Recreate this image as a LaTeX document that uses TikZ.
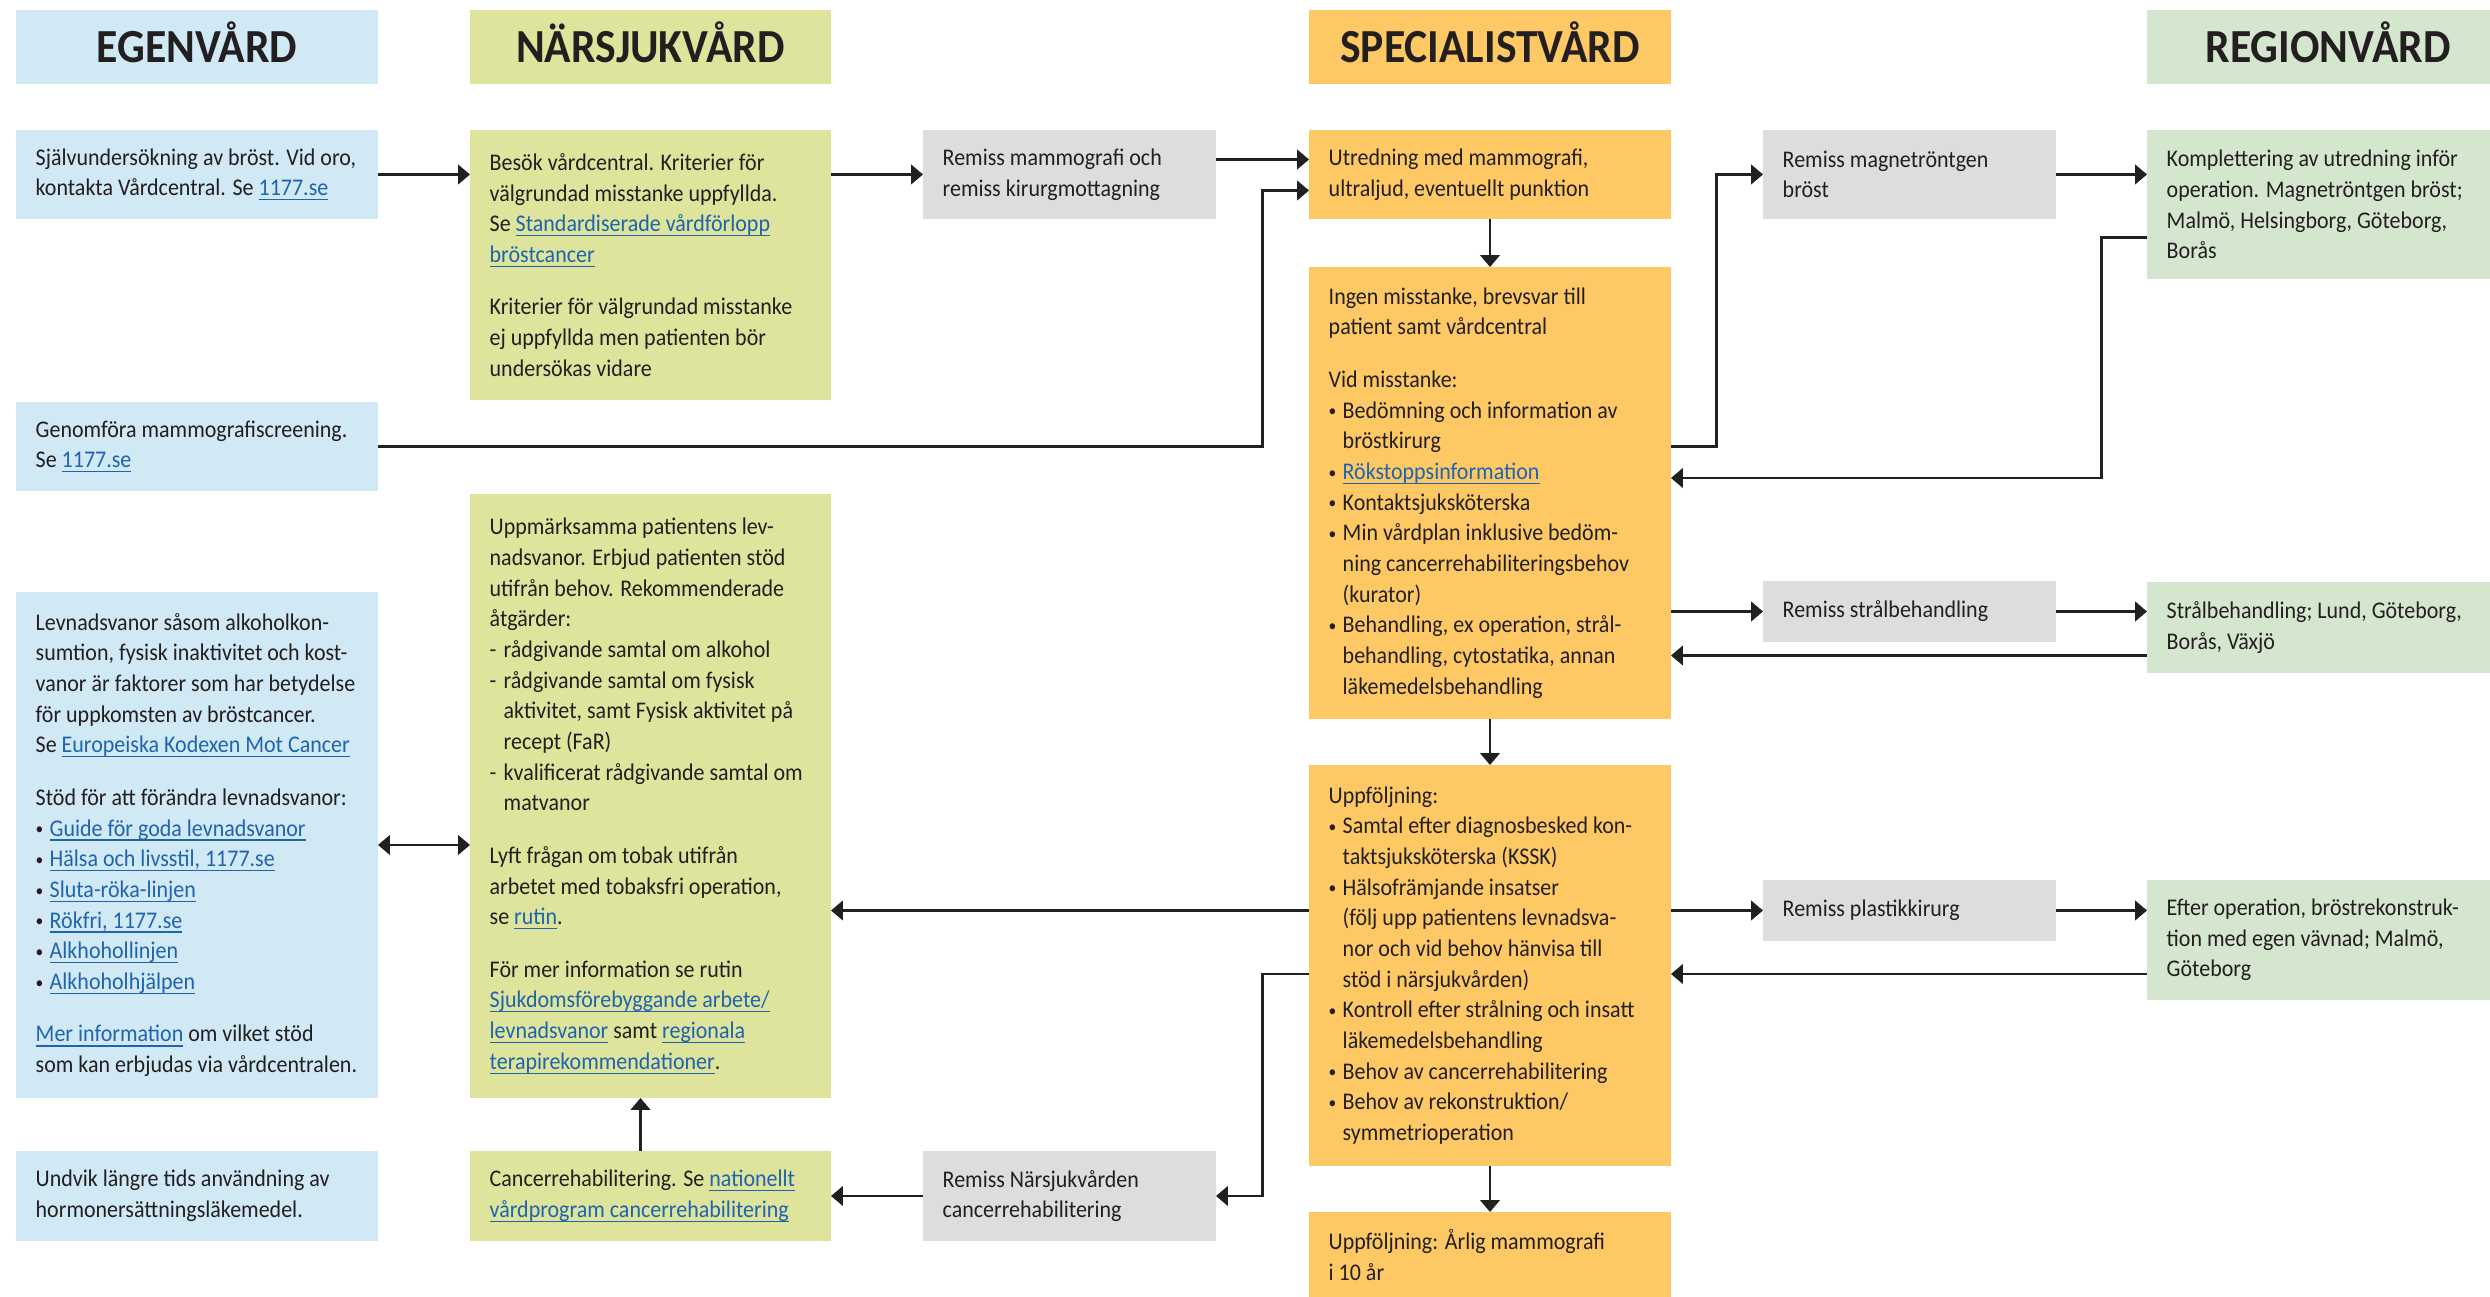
\documentclass[tikz,border=0pt]{standalone}
\usepackage{fontspec}
\setmainfont{Carlito}[FakeStretch=0.92]
\usetikzlibrary{arrows.meta}

\definecolor{ink}{RGB}{35,31,32}
\definecolor{egen}{RGB}{209,232,245}
\definecolor{nara}{RGB}{222,228,155}
\definecolor{spec}{RGB}{254,201,100}
\definecolor{regi}{RGB}{212,230,205}
\definecolor{remiss}{RGB}{220,221,223}
\definecolor{link}{RGB}{30,100,175}

\newsavebox{\lnkbox}
\newcommand{\lnk}[1]{\textcolor{link}{\sbox{\lnkbox}{#1}\rlap{\rule[-1.3pt]{\wd\lnkbox}{0.35pt}}\usebox{\lnkbox}}}
\newcommand{\bl}{\makebox[1.4mm][l]{\raisebox{0.4pt}{\fontsize{4.8}{5}\selectfont•}}}
\newcommand{\ds}{\makebox[1.4mm][l]{-}}
\newcommand{\ct}{\hspace*{1.4mm}}

\begin{document}
\begin{tikzpicture}
  [
  cell/.style={anchor=north west, inner sep=0pt, outer sep=0pt, minimum height=#1},
  egenbox/.style={cell=#1, minimum width=3.62cm, fill=egen},
  narbox/.style={cell=#1, minimum width=3.61cm, fill=nara},
  specbox/.style={cell=#1, minimum width=3.62cm, fill=spec},
  regbox/.style={cell=#1, minimum width=3.62cm, fill=regi},
  remissbox/.style={cell=#1, minimum width=2.93cm, fill=remiss},
  headbox/.style={text=ink, text height=8.7pt, text depth=0pt, font=\fontsize{13.5}{15}\selectfont\bfseries},
  txt/.style={anchor=west, align=left, inner sep=0pt, text=ink, font=\fontsize{6.8}{8.73}\selectfont},
  arr/.style={draw=ink, line width=0.6pt, -{Triangle[length=3.4pt,width=5.6pt]}},
  biarr/.style={arr, {Triangle[length=3.4pt,width=5.6pt]}-{Triangle[length=3.4pt,width=5.6pt]}},
  ]
  \useasboundingbox (0,0) rectangle (24.9,-12.97);

  % headers
  \node[egenbox=0.74cm, headbox] (hEgen) at (0.16,-0.10) {EGENVÅRD};
  \node[narbox=0.74cm, headbox] (hNar) at (4.70,-0.10) {NÄRSJUKVÅRD};
  \node[specbox=0.74cm, headbox] (hSpec) at (13.09,-0.10) {SPECIALISTVÅRD};
  \node[regbox=0.74cm, headbox] (hReg) at (21.47,-0.10) {REGIONVÅRD};

  % egenvard
  \node[egenbox=0.89cm] (self) at (0.16,-1.30) {};
  \node[txt] (selfT) at ([xshift=1.9mm]self.west)
    {Självundersökning av bröst. Vid oro,\\kontakta Vårdcentral. Se \lnk{1177.se}};
  \node[egenbox=0.89cm] (screen) at (0.16,-4.02) {};
  \node[txt] (screenT) at ([xshift=1.9mm]screen.west)
    {Genomföra mammografiscreening.\\Se \lnk{1177.se}};
  \node[egenbox=5.06cm] (lev) at (0.16,-5.92) {};
  \node[txt] (levT) at ([xshift=1.9mm]lev.west)
    {Levnadsvanor såsom alkoholkon-\\sumtion, fysisk inaktivitet och kost-\\vanor är faktorer som har betydelse\\för uppkomsten av bröstcancer.\\Se \lnk{Europeiska Kodexen Mot Cancer}\\[6.2pt]
     Stöd för att förändra levnadsvanor:\\
     \bl\lnk{Guide för goda levnadsvanor}\\
     \bl\lnk{Hälsa och livsstil, 1177.se}\\
     \bl\lnk{Sluta-röka-linjen}\\
     \bl\lnk{Rökfri, 1177.se}\\
     \bl\lnk{Alkhohollinjen}\\
     \bl\lnk{Alkhoholhjälpen}\\[6.2pt]
     \lnk{Mer information} om vilket stöd\\som kan erbjudas via vårdcentralen.};
  \node[egenbox=0.90cm] (undvik) at (0.16,-11.51) {};
  \node[txt] (undvikT) at ([xshift=1.9mm]undvik.west)
    {Undvik längre tids användning av\\hormonersättningsläkemedel.};

  % narsjukvard
  \node[narbox=2.70cm] (besok) at (4.70,-1.30) {};
  \node[txt] (besokT) at ([xshift=1.9mm]besok.west)
    {Besök vårdcentral. Kriterier för\\välgrundad misstanke uppfyllda.\\Se \lnk{Standardiserade vårdförlopp}\\\lnk{bröstcancer}\\[6.2pt]
     Kriterier för välgrundad misstanke\\ej uppfyllda men patienten bör\\undersökas vidare};
  \node[narbox=6.04cm] (uppm) at (4.70,-4.94) {};
  \node[txt] (uppmT) at ([xshift=1.9mm]uppm.west)
    {Uppmärksamma patientens lev-\\nadsvanor. Erbjud patienten stöd\\utifrån behov. Rekommenderade\\åtgärder:\\
     \ds rådgivande samtal om alkohol\\
     \ds rådgivande samtal om fysisk\\\ct aktivitet, samt Fysisk aktivitet på\\\ct recept (FaR)\\
     \ds kvalificerat rådgivande samtal om\\\ct matvanor\\[6.2pt]
     Lyft frågan om tobak utifrån\\arbetet med tobaksfri operation,\\se \lnk{rutin}.\\[6.2pt]
     För mer information se rutin\\\lnk{Sjukdomsförebyggande arbete/}\\\lnk{levnadsvanor} samt \lnk{regionala}\\\lnk{terapirekommendationer}.};
  \node[narbox=0.90cm] (rehab) at (4.70,-11.51) {};
  \node[txt] (rehabT) at ([xshift=1.9mm]rehab.west)
    {Cancerrehabilitering. Se \lnk{nationellt}\\\lnk{vårdprogram cancerrehabilitering}};

  % remisser
  \node[remissbox=0.89cm] (mammo) at (9.23,-1.30) {};
  \node[txt] (mammoT) at ([xshift=1.9mm]mammo.west)
    {Remiss mammografi och\\remiss kirurgmottagning};
  \node[remissbox=0.90cm] (narremiss) at (9.23,-11.51) {};
  \node[txt] (narremissT) at ([xshift=1.9mm]narremiss.west)
    {Remiss Närsjukvården\\cancerrehabilitering};

  % specialistvard
  \node[specbox=0.89cm] (utred) at (13.09,-1.30) {};
  \node[txt] (utredT) at ([xshift=1.9mm]utred.west)
    {Utredning med mammografi,\\ultraljud, eventuellt punktion};
  \node[specbox=4.52cm] (ingen) at (13.09,-2.67) {};
  \node[txt] (ingenT) at ([xshift=1.9mm]ingen.west)
    {Ingen misstanke, brevsvar till\\patient samt vårdcentral\\[6.2pt]
     Vid misstanke:\\
     \bl Bedömning och information av\\\ct bröstkirurg\\
     \bl\lnk{Rökstoppsinformation}\\
     \bl Kontaktsjuksköterska\\
     \bl Min vårdplan inklusive bedöm-\\\ct ning cancerrehabiliteringsbehov\\\ct (kurator)\\
     \bl Behandling, ex operation, strål-\\\ct behandling, cytostatika, annan\\\ct läkemedelsbehandling};
  \node[specbox=4.01cm] (uppf) at (13.09,-7.65) {};
  \node[txt] (uppfT) at ([xshift=1.9mm]uppf.west)
    {Uppföljning:\\
     \bl Samtal efter diagnosbesked kon-\\\ct taktsjuksköterska (KSSK)\\
     \bl Hälsofrämjande insatser\\\ct (följ upp patientens levnadsva-\\\ct nor och vid behov hänvisa till\\\ct stöd i närsjukvården)\\
     \bl Kontroll efter strålning och insatt\\\ct läkemedelsbehandling\\
     \bl Behov av cancerrehabilitering\\
     \bl Behov av rekonstruktion/\\\ct symmetrioperation};
  \node[specbox=0.86cm] (arlig) at (13.09,-12.12) {};
  \node[txt] (arligT) at ([xshift=1.9mm]arlig.west)
    {Uppföljning: Årlig mammografi\\i 10 år};

  \node[remissbox=0.89cm] (magn) at (17.63,-1.30) {};
  \node[txt] (magnT) at ([xshift=1.9mm]magn.west) {Remiss magnetröntgen\\bröst};
  \node[remissbox=0.61cm] (stral) at (17.63,-5.81) {};
  \node[txt] (stralT) at ([xshift=1.9mm]stral.west) {Remiss strålbehandling};
  \node[remissbox=0.61cm] (plast) at (17.63,-8.80) {};
  \node[txt] (plastT) at ([xshift=1.9mm]plast.west) {Remiss plastikkirurg};

  % regionvard
  \node[regbox=1.49cm] (kompl) at (21.47,-1.30) {};
  \node[txt] (komplT) at ([xshift=1.9mm]kompl.west)
    {Komplettering av utredning inför\\operation. Magnetröntgen bröst;\\Malmö, Helsingborg, Göteborg,\\Borås};
  \node[regbox=0.91cm] (stralreg) at (21.47,-5.82) {};
  \node[txt] (stralregT) at ([xshift=1.9mm]stralreg.west)
    {Strålbehandling; Lund, Göteborg,\\Borås, Växjö};
  \node[regbox=1.20cm] (efter) at (21.47,-8.80) {};
  \node[txt] (efterT) at ([xshift=1.9mm]efter.west)
    {Efter operation, bröstrekonstruk-\\tion med egen vävnad; Malmö,\\Göteborg};

  % arrows
  \draw[arr] (self.east) -- (besok.west |- self.east);
  \draw[arr] (besok.east |- mammo.west) -- (mammo.west);
  \draw[arr] ([yshift=1.5mm]mammo.east) coordinate (m1) -- (utred.west |- m1);
  \draw[arr] (screen.east) -| ([xshift=-4.65mm,yshift=-1.6mm]utred.west) -- ([yshift=-1.6mm]utred.west);
  \draw[arr] (utred.south) -- (ingen.north);
  \draw[arr] (ingen.east |- screen.east) -| ([xshift=-4.65mm]magn.west) -- (magn.west);
  \draw[arr] (magn.east) -- (kompl.west |- magn.east);
  \draw[arr] ([yshift=-3.3mm]kompl.west) -- ++(-0.455,0) |- ([yshift=1.5mm]ingen.east);
  \draw[arr] (ingen.east |- stral.west) -- (stral.west);
  \draw[arr] (stral.east) -- (stralreg.west |- stral.east);
  \draw[arr] ([yshift=-2.8mm]stralreg.west) coordinate (s1) -- (ingen.east |- s1);
  \draw[arr] (ingen.south) -- (uppf.north);
  \draw[arr] (uppf.west |- plast.west) -- (uppm.east |- plast.west);
  \draw[arr] (uppf.east |- plast.west) -- (plast.west);
  \draw[arr] (plast.east) -- (efter.west |- plast.east);
  \draw[arr] ([yshift=-3.4mm]efter.west) coordinate (e1) -- (uppf.east |- e1);
  \draw[arr] (uppf.west |- e1) -- ++(-0.465,0) |- (narremiss.east);
  \draw[arr] (narremiss.west) -- (rehab.east);
  \draw[arr] ([xshift=-1mm]rehab.north) -- ([xshift=-1mm]uppm.south);
  \draw[biarr] (lev.east) -- (uppm.west |- lev.east);
  \draw[arr] (uppf.south) -- (arlig.north);
\end{tikzpicture}
\end{document}
